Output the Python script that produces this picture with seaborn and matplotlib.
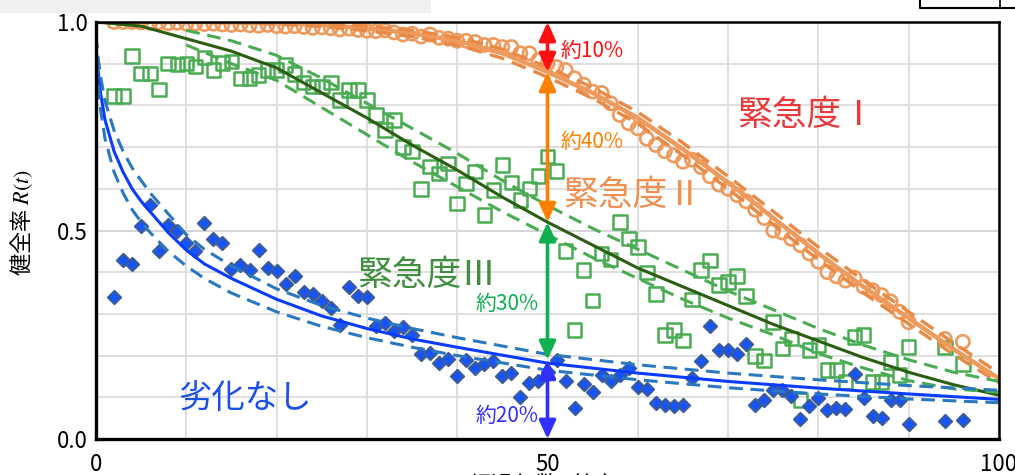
import numpy as np
import matplotlib
matplotlib.use("Agg")
import matplotlib.pyplot as plt
import matplotlib.patches as mpatches
import seaborn as sns

# ---- observed soundness ratios per year ----
years = [2, 3, 4, 5, 6, 7, 8, 9, 10, 11, 12, 13, 14, 15, 16, 17, 18, 19, 20,
         21, 22, 23, 24, 25, 26, 27, 28, 29, 30, 31, 32, 33, 34, 35, 36, 37, 38, 39, 40,
         41, 42, 43, 44, 45, 46, 47, 48, 49, 50, 51, 52, 53, 54, 55, 56, 57, 58, 59, 60,
         61, 62, 63, 64, 65, 66, 67, 68, 69, 70, 71, 72, 73, 74, 75, 76, 77, 78, 79, 80,
         81, 82, 83, 84, 85, 86, 87, 88, 89, 90, 94, 96]

urgency1_obs = [1.0, 1.0, 1.0, 0.999, 0.998, 0.999, 0.997, 0.998, 0.996,
                0.996, 0.995, 0.996, 0.994, 0.993, 0.994, 0.992, 0.991, 0.993, 0.99,
                0.989, 0.99, 0.988, 0.986, 0.987, 0.985, 0.982, 0.984, 0.981, 0.979,
                0.978, 0.98, 0.975, 0.97, 0.972, 0.965, 0.97, 0.962, 0.96, 0.955,
                0.955, 0.952, 0.945, 0.945, 0.94, 0.94, 0.925, 0.925, 0.909, 0.90,
                0.892, 0.885, 0.865, 0.85, 0.833, 0.83, 0.805, 0.777, 0.757, 0.745,
                0.72, 0.705, 0.69, 0.68, 0.665, 0.67, 0.652, 0.63, 0.61, 0.60,
                0.585, 0.57, 0.55, 0.53, 0.50, 0.495, 0.48, 0.465, 0.445, 0.425,
                0.40, 0.39, 0.38, 0.387, 0.365, 0.357, 0.345, 0.33, 0.305, 0.28,
                0.24, 0.233]

urgency2_obs = [0.823, 0.823, 0.918, 0.877, 0.877, 0.838, 0.90, 0.898, 0.90,
                0.893, 0.915, 0.885, 0.902, 0.905, 0.865, 0.865, 0.873, 0.885, 0.885,
                0.897, 0.875, 0.855, 0.845, 0.845, 0.855, 0.813, 0.837, 0.837, 0.813,
                0.777, 0.741, 0.765, 0.70, 0.689, 0.60, 0.653, 0.637, 0.661, 0.565,
                0.613, 0.641, 0.537, 0.597, 0.657, 0.615, 0.573, 0.601, 0.631, 0.677,
                0.643, 0.451, 0.261, 0.405, 0.332, 0.445, 0.431, 0.521, 0.481, 0.46,
                0.399, 0.348, 0.249, 0.261, 0.236, 0.335, 0.405, 0.428, 0.369, 0.377,
                0.391, 0.343, 0.199, 0.188, 0.281, 0.217, 0.241, 0.094, 0.213, 0.225,
                0.165, 0.165, 0.137, 0.245, 0.249, 0.137, 0.137, 0.185, 0.153, 0.221,
                0.219, 0.18]

no_damage_obs = [0.34, 0.43, 0.42, 0.51, 0.56, 0.45, 0.513, 0.50, 0.47,
                 0.45, 0.517, 0.48, 0.47, 0.407, 0.417, 0.405, 0.453, 0.41, 0.403,
                 0.372, 0.39, 0.353, 0.347, 0.332, 0.313, 0.273, 0.365, 0.344, 0.34,
                 0.271, 0.277, 0.26, 0.268, 0.249, 0.205, 0.207, 0.183, 0.191, 0.151,
                 0.19, 0.171, 0.179, 0.188, 0.151, 0.158, 0.10, 0.135, 0.14, 0.16,
                 0.19, 0.14, 0.075, 0.133, 0.112, 0.153, 0.14, 0.153, 0.17, 0.125,
                 0.119, 0.087, 0.081, 0.079, 0.081, 0.146, 0.188, 0.27, 0.213, 0.213,
                 0.205, 0.228, 0.082, 0.094, 0.118, 0.118, 0.104, 0.048, 0.08, 0.098,
                 0.07, 0.074, 0.072, 0.155, 0.098, 0.055, 0.05, 0.094, 0.094, 0.036,
                 0.043, 0.045]

# ---- fitted survival curves with confidence bands ----
fit_t = [0, 5, 10, 15, 20, 25, 30, 35, 40, 45, 50, 55, 60, 65, 70, 75, 80, 85, 90, 95, 100]
urgency1_fit = [1.0, 1.0, 1.0, 0.999, 0.997, 0.993, 0.985, 0.973, 0.955, 0.925, 0.88,
                0.83, 0.77, 0.695, 0.615, 0.53, 0.445, 0.365, 0.29, 0.215, 0.145]
urgency1_hi = [1.0, 1.0, 1.0, 1.0, 0.999, 0.997, 0.99, 0.98, 0.963, 0.935, 0.892,
               0.843, 0.784, 0.71, 0.63, 0.546, 0.46, 0.38, 0.305, 0.23, 0.158]
urgency1_lo = [1.0, 1.0, 1.0, 0.998, 0.995, 0.989, 0.979, 0.965, 0.945, 0.913, 0.868,
               0.817, 0.756, 0.68, 0.6, 0.514, 0.43, 0.35, 0.276, 0.202, 0.135]

urgency2_fit = [1.0, 0.99, 0.96, 0.93, 0.89, 0.83, 0.77, 0.705, 0.645, 0.58, 0.52,
                0.465, 0.41, 0.365, 0.32, 0.275, 0.235, 0.195, 0.16, 0.13, 0.105]
band_t = fit_t[2:]
urgency2_hi = [0.98, 0.955, 0.92, 0.865, 0.805, 0.745, 0.685, 0.62, 0.56,
               0.505, 0.455, 0.405, 0.355, 0.31, 0.265, 0.225, 0.19, 0.16, 0.138]
urgency2_lo = [0.945, 0.9, 0.86, 0.795, 0.73, 0.665, 0.605, 0.545, 0.49,
               0.435, 0.385, 0.335, 0.29, 0.25, 0.205, 0.17, 0.14, 0.12, 0.112]

nd_t = [0, 0.2, 0.5, 1, 2, 3, 4, 5, 6, 8, 10, 12, 15, 20, 25, 30, 35, 40,
        50, 60, 70, 80, 90, 100]
no_damage_fit = [1.0, 0.89, 0.83, 0.765, 0.69, 0.64, 0.60, 0.57, 0.545, 0.495, 0.453,
                 0.42, 0.385, 0.335, 0.295, 0.265, 0.24, 0.22, 0.182, 0.158, 0.138,
                 0.122, 0.108, 0.095]
no_damage_hi = [0.97, 0.92, 0.87, 0.81, 0.74, 0.69, 0.65, 0.62, 0.59, 0.54, 0.49,
                0.455, 0.415, 0.36, 0.32, 0.29, 0.265, 0.243, 0.203, 0.178, 0.158,
                0.142, 0.128, 0.117]
no_damage_lo = [0.95, 0.86, 0.79, 0.72, 0.64, 0.59, 0.55, 0.52, 0.495, 0.45, 0.415,
                0.385, 0.35, 0.305, 0.27, 0.243, 0.22, 0.2, 0.165, 0.142, 0.123,
                0.108, 0.096, 0.087]

# ---- gaps between the curves at t = 50 ----
gap_t = 50
gap_levels = [1.0, 0.88, 0.52, 0.19, 0.0]
gap_labels = ["約10%", "約40%", "約30%", "約20%"]

x_ticks = [0, 50, 100]
y_ticks = [0.0, 0.5, 1.0]

# ---- style ----
sns.set_theme(style="white")
plt.rcParams["font.family"] = ["Noto Sans CJK JP", "DejaVu Sans"]
plt.rcParams["mathtext.fontset"] = "stix"
plt.rcParams["axes.unicode_minus"] = False

C_ORANGE = "#ee9a5c"
C_ORANGE_D = "#e88a45"
C_GREEN = "#4aac52"
C_DKGREEN = "#2b5e12"
C_BLUE = "#0a3cff"
C_BLUE_D = "#2a78c0"
C_DIAMOND = "#1554ff"
C_DIAMOND_E = "#3b5b94"

fig = plt.figure(figsize=(10.15, 4.75), dpi=100)
ax = fig.add_axes([96 / 1015, 36 / 475, 903 / 1015, 417 / 475])

# light header strip along the top edge
fig.patches.append(mpatches.Rectangle((0, 463 / 475), 430 / 1015, 12 / 475,
                                      transform=fig.transFigure, color="#f0f0f0",
                                      zorder=0))
fig.lines.append(plt.Line2D([920 / 1015, 920 / 1015, 1.0], [1.0, 467 / 475, 467 / 475],
                            transform=fig.transFigure, color="black", lw=1.5))
fig.lines.append(plt.Line2D([1000 / 1015, 1000 / 1015], [1.0, 467 / 475],
                            transform=fig.transFigure, color="black", lw=1.2))

ax.set_xlim(0, 100)
ax.set_ylim(0, 1.0)
ax.set_yticks(np.arange(0, 1.01, 0.1))
ax.grid(True, color="#dcdcdc", lw=1.3)
ax.set_axisbelow(True)
ax.axhline(0.5, color="#a8a8a8", lw=1.3, zorder=0.5)

# observations
sns.scatterplot(x=years, y=urgency2_obs, marker="s", s=95, facecolor="none",
                edgecolor=C_GREEN, color=C_GREEN, linewidth=1.8, ax=ax, zorder=3)
sns.scatterplot(x=years, y=no_damage_obs, marker="D", s=45, color=C_DIAMOND,
                edgecolor=C_DIAMOND_E, linewidth=1.5, ax=ax, zorder=3)
sns.scatterplot(x=years, y=urgency1_obs, marker="o", s=90, facecolor="none",
                edgecolor=C_ORANGE, color=C_ORANGE, linewidth=1.9, ax=ax, zorder=3)

# fitted curves
dash = (0, (4.5, 2.5))
sns.lineplot(x=fit_t, y=urgency1_fit, color=C_ORANGE, lw=3.2, ax=ax, zorder=4)
sns.lineplot(x=fit_t, y=urgency1_hi, color=C_ORANGE_D, lw=2.4, linestyle=dash, ax=ax, zorder=4)
sns.lineplot(x=fit_t, y=urgency1_lo, color=C_ORANGE_D, lw=2.4, linestyle=dash, ax=ax, zorder=4)

sns.lineplot(x=fit_t, y=urgency2_fit, color=C_DKGREEN, lw=2.2, ax=ax, zorder=4)
sns.lineplot(x=band_t, y=urgency2_hi, color=C_GREEN, lw=2.2, linestyle=dash, ax=ax, zorder=4)
sns.lineplot(x=band_t, y=urgency2_lo, color=C_GREEN, lw=2.2, linestyle=dash, ax=ax, zorder=4)

sns.lineplot(x=nd_t[1:], y=no_damage_fit[1:], color=C_BLUE, lw=2.2, ax=ax, zorder=4)
sns.lineplot(x=nd_t, y=no_damage_hi, color=C_BLUE_D, lw=2.2, linestyle=dash, ax=ax, zorder=4)
sns.lineplot(x=nd_t, y=no_damage_lo, color=C_BLUE_D, lw=2.2, linestyle=dash, ax=ax, zorder=4)

# gap arrows at t = 50
arrow_colors = ["#ff1010", "#ff8000", "#10b050", "#3030ff"]
for i, col in enumerate(arrow_colors):
    ax.annotate("", xy=(gap_t, gap_levels[i + 1]), xytext=(gap_t, gap_levels[i]),
                arrowprops=dict(arrowstyle="<|-|>,head_length=0.55,head_width=0.25",
                                color=col, lw=2.6, mutation_scale=20,
                                shrinkA=0, shrinkB=0), zorder=6)

ax.text(51.4, 0.93, gap_labels[0], color="#ff1010", fontsize=15, va="center", ha="left", zorder=7)
ax.text(51.4, 0.712, gap_labels[1], color="#ff8000", fontsize=15, va="center", ha="left", zorder=7)
ax.text(49.0, 0.324, gap_labels[2], color="#10b050", fontsize=15, va="center", ha="right", zorder=7)
ax.text(49.0, 0.055, gap_labels[3], color="#3030ff", fontsize=15, va="center", ha="right", zorder=7)

# series names
ax.text(71.0, 0.775, "緊急度Ⅰ", color="#e83a3a", fontsize=25, va="center", ha="left", zorder=7)
ax.text(51.7, 0.585, "緊急度Ⅱ", color="#ee9050", fontsize=25, va="center", ha="left", zorder=7)
ax.text(28.9, 0.393, "緊急度Ⅲ", color="#3f8f3f", fontsize=25, va="center", ha="left", zorder=7)
ax.text(9.1, 0.098, "劣化なし", color="#1a50e8", fontsize=24, va="center", ha="left", zorder=7)

# axes decorations
ax.set_xticks(np.arange(0, 101, 10))
ax.set_xticklabels([str(v) if v in x_ticks else "" for v in range(0, 101, 10)])
ax.set_yticklabels([f"{v:.1f}" if round(v, 1) in y_ticks else ""
                    for v in np.arange(0, 1.01, 0.1)])
ax.tick_params(axis="both", length=0, labelsize=16, colors="black")
ax.tick_params(axis="x", pad=10)
ax.tick_params(axis="y", pad=6)

ax.set_ylabel("健全率 $R(t)$", fontsize=16, color="black")
ax.yaxis.set_label_coords(-0.068, 0.52)
ax.set_xlabel("経過年数（年）", fontsize=16, color="black", va="top")
ax.xaxis.set_label_coords(0.5, -0.083)

for side, w in (("left", 2.4), ("bottom", 2.4), ("top", 1.8), ("right", 1.8)):
    ax.spines[side].set_visible(True)
    ax.spines[side].set_color("black")
    ax.spines[side].set_linewidth(w)
    ax.spines[side].set_zorder(8)

fig.savefig("out.png", dpi=100)
